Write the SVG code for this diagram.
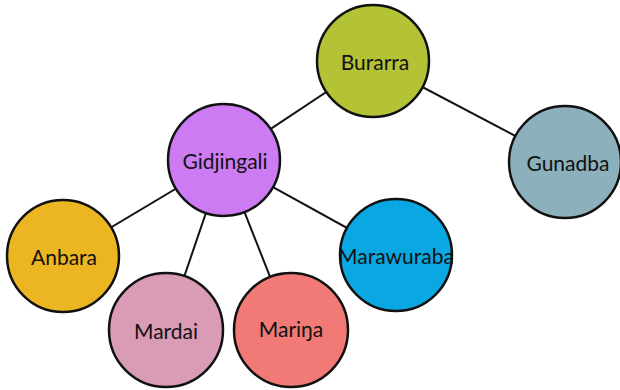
<svg xmlns="http://www.w3.org/2000/svg" width="620" height="390" viewBox="0 0 620 390">
<style>
.n{stroke:#111;stroke-width:2.5}
.t{font-family:Lato,"Open Sans",sans-serif;font-size:21px;fill:#111;text-anchor:middle;dominant-baseline:central}
.e{stroke:#111;stroke-width:2;fill:none}
</style>
<rect width="620" height="390" fill="#fff"/>
<g id="connectors">
<line class="e" x1="373" y1="61" x2="224" y2="160"/>
<line class="e" x1="373" y1="61" x2="565" y2="162"/>
<line class="e" x1="224" y1="160" x2="63" y2="256"/>
<line class="e" x1="224" y1="160" x2="166" y2="330"/>
<line class="e" x1="224" y1="160" x2="291" y2="330"/>
<line class="e" x1="224" y1="160" x2="396" y2="255"/>
</g>
<g id="burarra"><circle class="n" cx="373" cy="61" r="56" fill="#b4c236"/><text class="t" x="375" y="61">Burarra</text></g>
<g id="gidjingali"><circle class="n" cx="224" cy="160" r="56" fill="#cc7bf2"/><text class="t" x="225" y="160">Gidjingali</text></g>
<g id="gunadba"><circle class="n" cx="565" cy="162" r="56" fill="#8cb0bc"/><text class="t" x="568" y="162">Gunadba</text></g>
<g id="anbara"><circle class="n" cx="63" cy="256" r="56" fill="#ecb623"/><text class="t" x="64" y="256">Anbara</text></g>
<g id="mardai"><circle class="n" cx="166" cy="330" r="57" fill="#da9bb6"/><text class="t" x="166" y="330">Mardai</text></g>
<g id="marina"><circle class="n" cx="291" cy="330" r="57" fill="#f27a76"/><text class="t" x="291" y="328">Mariŋa</text></g>
<g id="marawuraba"><circle class="n" cx="396" cy="255" r="56" fill="#0aa8e2"/><text class="t" x="396" y="255">Marawuraba</text></g>
</svg>
